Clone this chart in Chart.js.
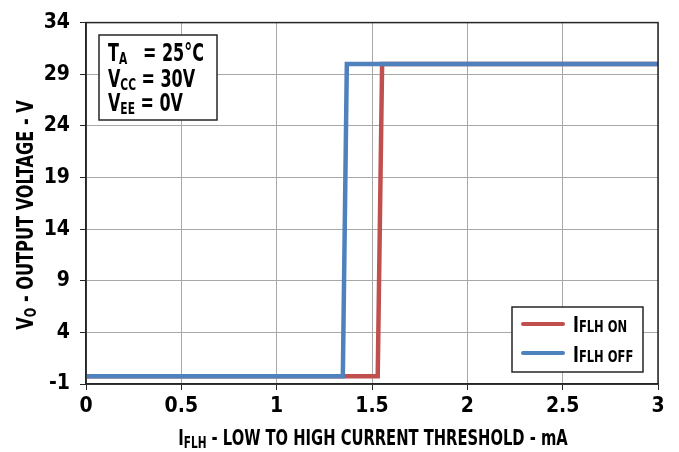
<!DOCTYPE html>
<html>
<head>
<meta charset="utf-8">
<script src="https://cdn.jsdelivr.net/npm/chart.js@4.4.0/dist/chart.umd.min.js"></script>
<style>
html,body{margin:0;padding:0;background:#fff;}
#wrap{width:679px;height:452px;position:relative;}
</style>
</head>
<body>
<div id="wrap"><canvas id="c" width="679" height="452"></canvas></div>
<script>
// Data
const xTicks = [0, 0.5, 1, 1.5, 2, 2.5, 3];
const yTicks = [-1, 4, 9, 14, 19, 24, 29, 34];
const onX = [0, 1.53, 1.553, 3];
const onY = [-0.25, -0.25, 30, 30];
const offX = [0, 1.347, 1.368, 3];
const offY = [-0.25, -0.25, 30, 30];

const FONT = '"DejaVu Sans Condensed", "Liberation Sans Narrow", sans-serif';
const RED = '#c0504d';
const BLUE = '#4f81bd';

const toPts = (xs, ys) => xs.map((x, i) => ({x: x, y: ys[i]}));

function richWidth(ctx, parts) {
  let w = 0;
  for (const p of parts) { ctx.font = 'bold ' + p[1] + 'px ' + FONT; w += ctx.measureText(p[0]).width; }
  return w;
}
// draw text parts horizontally compressed by sx, starting at x (left), baseline y
function drawRich(ctx, parts, x, y, sx) {
  ctx.save();
  ctx.translate(x, y);
  ctx.scale(sx, 1);
  let cx = 0;
  for (const p of parts) {
    ctx.font = 'bold ' + p[1] + 'px ' + FONT;
    ctx.fillText(p[0], cx, p[2] || 0);
    cx += ctx.measureText(p[0]).width;
  }
  ctx.restore();
  return cx * sx;
}

const decor = {
  id: 'decor',
  afterDraw(chart) {
    const ctx = chart.ctx;
    const a = chart.chartArea;
    ctx.save();
    // plot frame
    ctx.strokeStyle = '#262626';
    ctx.lineWidth = 1.5;
    ctx.strokeRect(a.left, a.top, a.right - a.left, a.bottom - a.top);
    ctx.fillStyle = '#000';
    ctx.textBaseline = 'alphabetic';
    ctx.textAlign = 'left';

    // x title
    const xs = 0.78;
    const xt = [['I', 21, 0], ['FLH', 15, 3], [' - LOW TO HIGH CURRENT THRESHOLD - mA', 21, 0]];
    const xw = richWidth(ctx, xt) * xs;
    drawRich(ctx, xt, 373 - xw / 2, 445, xs);

    // y title (rotated)
    ctx.save();
    ctx.translate(33, 215);
    ctx.rotate(-Math.PI / 2);
    const ys = 0.78;
    const yt = [['V', 23, 0], ['O', 16, 3], [' - OUTPUT VOLTAGE - V', 23, 0]];
    const yw = richWidth(ctx, yt) * ys;
    drawRich(ctx, yt, -yw / 2, 0, ys);
    ctx.restore();

    // annotation box
    ctx.fillStyle = '#fff';
    ctx.fillRect(99, 35, 118, 85);
    ctx.strokeStyle = '#262626';
    ctx.lineWidth = 1.5;
    ctx.strokeRect(99, 35, 118, 85);
    ctx.fillStyle = '#000';
    const as = 0.74;
    drawRich(ctx, [['T', 24, 0], ['A', 16, 3]], 108, 61, as);
    drawRich(ctx, [['= 25°C', 24, 0]], 143, 61, as);
    drawRich(ctx, [['V', 24, 0], ['CC', 16, 3], [' = 30V', 24, 0]], 108, 87, as);
    drawRich(ctx, [['V', 24, 0], ['EE', 16, 3], [' = 0V', 24, 0]], 108, 111, as);

    // legend
    ctx.fillStyle = '#fff';
    ctx.fillRect(512, 307, 131, 65);
    ctx.strokeRect(512, 307, 131, 65);
    ctx.lineCap = 'round';
    ctx.lineWidth = 4;
    ctx.strokeStyle = RED;
    ctx.beginPath(); ctx.moveTo(523, 324); ctx.lineTo(563, 324); ctx.stroke();
    ctx.strokeStyle = BLUE;
    ctx.beginPath(); ctx.moveTo(523, 353); ctx.lineTo(563, 353); ctx.stroke();
    ctx.fillStyle = '#000';
    drawRich(ctx, [['I', 22, 0], ['FLH ON', 16, 0]], 573, 332, 0.8);
    drawRich(ctx, [['I', 22, 0], ['FLH OFF', 16, 0]], 573, 362, 0.8);
    ctx.restore();
  }
};

new Chart(document.getElementById('c'), {
  type: 'scatter',
  data: {
    datasets: [
      { label: 'IFLH ON', data: toPts(onX, onY), showLine: true, borderColor: RED, backgroundColor: RED,
        borderWidth: 4.5, pointRadius: 0, tension: 0, order: 2 },
      { label: 'IFLH OFF', data: toPts(offX, offY), showLine: true, borderColor: BLUE, backgroundColor: BLUE,
        borderWidth: 4.5, pointRadius: 0, tension: 0, order: 1 }
    ]
  },
  options: {
    responsive: false,
    animation: false,
    devicePixelRatio: 1,
    layout: { padding: { left: 0, right: 21, top: 20, bottom: 0 } },
    plugins: { legend: { display: false }, tooltip: { enabled: false } },
    scales: {
      x: {
        type: 'linear', min: 0, max: 3,
        afterBuildTicks(s) { s.ticks = xTicks.map(v => ({value: v})); },
        afterFit(s) { s.height = 68; },
        grid: { color: '#a8a8a8', lineWidth: 1, tickColor: '#262626', tickLength: 6 },
        border: { color: '#262626', width: 1.5 },
        ticks: { color: '#000', padding: 4, maxRotation: 0, autoSkip: false,
          font: { family: FONT, size: 21, weight: 'bold' },
          callback: v => String(v) }
      },
      y: {
        type: 'linear', min: -1, max: 34,
        afterBuildTicks(s) { s.ticks = yTicks.map(v => ({value: v})); },
        afterFit(s) { s.width = 86; },
        grid: { color: '#a8a8a8', lineWidth: 1, tickColor: '#262626', tickLength: 6 },
        border: { color: '#262626', width: 1.5 },
        ticks: { color: '#000', padding: 10, autoSkip: false,
          font: { family: FONT, size: 21, weight: 'bold' },
          callback: v => String(v) }
      }
    }
  },
  plugins: [decor]
});
</script>
</body>
</html>
